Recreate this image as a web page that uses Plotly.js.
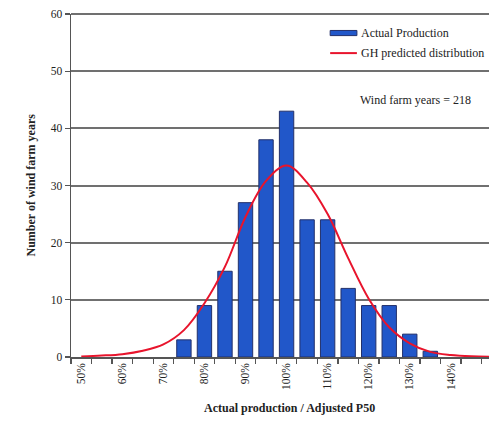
<!DOCTYPE html>
<html>
<head>
<meta charset="utf-8">
<script src="https://cdn.plot.ly/plotly-3.0.1.min.js"></script>
<style>html,body{margin:0;padding:0;background:#fff;}#chart{width:489px;height:424px;}</style>
</head>
<body>
<div id="chart"></div>
<script>
// Bin centres (% of adjusted P50) and counts of wind-farm years
var barBins = [75, 80, 85, 90, 95, 100, 105, 110, 115, 120, 125, 130, 135];
var barCounts = [3, 9, 15, 27, 38, 43, 24, 24, 12, 9, 9, 4, 1];
// GH predicted distribution
var curveX = [50, 55, 60, 65, 70, 75, 80, 85, 90, 95, 100, 105, 110, 115, 120, 125, 130, 135, 140, 145, 150];
var curveY = [0.1, 0.25, 0.5, 1.1, 2.2, 4.7, 9.4, 15.8, 24.5, 30.8, 33.5, 30.5, 25, 17.3, 10.2, 5.2, 2.4, 0.9, 0.35, 0.12, 0.05];
var tickVals = [50, 60, 70, 80, 90, 100, 110, 120, 130, 140, 150];
var tickText = ['50%', '60%', '70%', '80%', '90%', '100%', '110%', '120%', '130%', '140%', '150%'];
var yTicks = [0, 10, 20, 30, 40, 50, 60];

var serif = 'Liberation Serif, Times New Roman, serif';
var barColor = '#2157c9';
var lineColor = '#e8142c';
var gridColor = '#707070';

var traces = [
  {
    type: 'bar', x: barBins, y: barCounts, width: 3.5,
    marker: {color: barColor, line: {color: '#23306a', width: 1}},
    name: 'Actual Production', showlegend: false
  },
  {
    type: 'scatter', mode: 'lines', x: curveX, y: curveY,
    line: {color: lineColor, width: 2, shape: 'spline', smoothing: 1},
    name: 'GH predicted distribution', showlegend: false
  }
];

var layout = {
  width: 489, height: 424,
  margin: {l: 71, r: 0, t: 14, b: 67},
  paper_bgcolor: '#fff', plot_bgcolor: '#fff',
  font: {family: serif, color: '#222', size: 11},
  showlegend: false,
  xaxis: {
    range: [47.5, 149.3],
    tickmode: 'array', tickvals: tickVals, ticktext: tickText,
    tickangle: -90, ticks: '', showgrid: false, zeroline: false,
    showline: true, linecolor: '#555', linewidth: 1.5,
    tickfont: {family: serif, size: 11.5, color: '#222'},
    minor: {tick0: 47.5, dtick: 5, ticks: 'outside', ticklen: 5, tickcolor: '#555', tickwidth: 1.2, showgrid: false},
    fixedrange: true
  },
  yaxis: {
    range: [0, 60],
    tickmode: 'array', tickvals: yTicks,
    ticks: 'outside', ticklen: 5, tickcolor: '#555', tickwidth: 1.2,
    showgrid: true, gridcolor: gridColor, gridwidth: 2,
    zeroline: false, showline: true, linecolor: '#555', linewidth: 1.5,
    tickfont: {family: serif, size: 11.5, color: '#222'},
    fixedrange: true
  },
  shapes: [
    {type: 'line', xref: 'paper', yref: 'paper', x0: 0, x1: 1, y0: 1, y1: 1,
     line: {color: gridColor, width: 2}},
    {type: 'rect', xref: 'paper', yref: 'paper', x0: 0.62, x1: 0.684, y0: 0.937, y1: 0.952,
     fillcolor: barColor, line: {color: '#23306a', width: 1}},
    {type: 'line', xref: 'paper', yref: 'paper', x0: 0.62, x1: 0.684, y0: 0.886, y1: 0.886,
     line: {color: lineColor, width: 2}}
  ],
  annotations: [
    {xref: 'paper', yref: 'paper', x: 0.688, y: 0.9445, xanchor: 'left', yanchor: 'middle',
     text: 'Actual Production', showarrow: false, font: {family: serif, size: 12, color: '#222'}},
    {xref: 'paper', yref: 'paper', x: 0.688, y: 0.886, xanchor: 'left', yanchor: 'middle',
     text: 'GH predicted distribution', showarrow: false, font: {family: serif, size: 12, color: '#222'}},
    {xref: 'paper', yref: 'paper', x: 0.687, y: 0.75, xanchor: 'left', yanchor: 'middle',
     text: 'Wind farm years = 218', showarrow: false, font: {family: serif, size: 12, color: '#222'}},
    {xref: 'paper', yref: 'paper', x: 0.523, y: -0.122, xanchor: 'center', yanchor: 'top',
     text: '<b>Actual production / Adjusted P50</b>', showarrow: false, font: {family: serif, size: 12, color: '#222'}},
    {xref: 'paper', yref: 'paper', x: -0.098, y: 0.5, xanchor: 'center', yanchor: 'middle', textangle: -90,
     text: '<b>Number of wind farm years</b>', showarrow: false, font: {family: serif, size: 12, color: '#222'}}
  ]
};

Plotly.newPlot('chart', traces, layout, {displayModeBar: false, staticPlot: true});
</script>
</body>
</html>
